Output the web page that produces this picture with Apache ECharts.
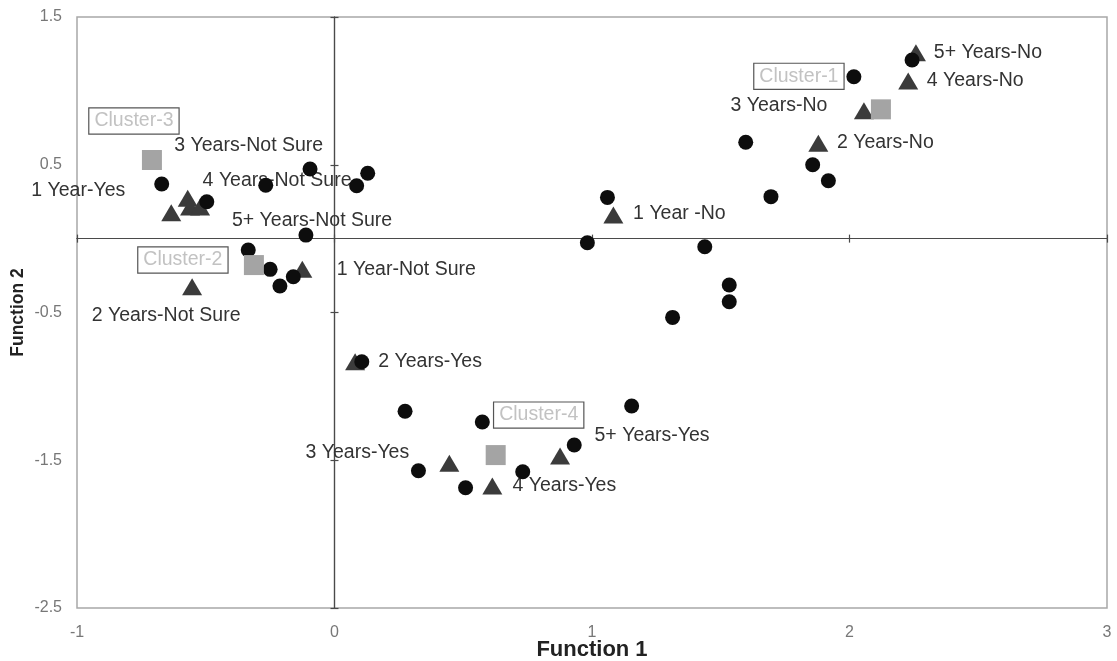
<!DOCTYPE html>
<html>
<head>
<meta charset="utf-8">
<script src="https://cdn.jsdelivr.net/npm/echarts@6/dist/echarts.min.js"></script>
<style>html,body{margin:0;padding:0;background:#fff;}#c{width:1117px;height:661px;}</style>
</head>
<body>
<div id="c"></div>
<script>
// Individual cases (circles)
const caseF1 = [-0.671,-0.496,-0.267,-0.095,0.086,0.129,-0.111,-0.335,-0.250,-0.212,-0.160,0.106,0.274,0.574,1.154,0.931,0.326,0.509,0.731,1.313,1.533,1.533,1.060,0.982,1.438,1.695,1.857,1.918,2.017,2.243,1.597];
const caseF2 = [0.370,0.250,0.361,0.471,0.358,0.442,0.024,-0.077,-0.208,-0.321,-0.258,-0.833,-1.168,-1.241,-1.133,-1.397,-1.571,-1.686,-1.578,-0.533,-0.314,-0.427,0.279,-0.028,-0.055,0.284,0.500,0.392,1.096,1.209,0.652];
// Group centroids (triangles)
const groupNames = ['1 Year-Yes','3 Years-Not Sure','4 Years-Not Sure','5+ Years-Not Sure','1 Year-Not Sure','2 Years-Not Sure','2 Years-Yes','3 Years-Yes','4 Years-Yes','5+ Years-Yes','1 Year -No','2 Years-No','3 Years-No','4 Years-No','5+ Years-No'];
const groupF1 = [-0.634,-0.570,-0.561,-0.522,-0.125,-0.553,0.080,0.446,0.613,0.876,1.083,1.879,2.056,2.228,2.258];
const groupF2 = [0.175,0.273,0.214,0.214,-0.208,-0.325,-0.833,-1.521,-1.674,-1.472,0.160,0.645,0.866,1.067,1.258];
// Cluster centroids (squares)
const clusterNames = ['Cluster-1','Cluster-2','Cluster-3','Cluster-4'];
const clusterF1 = [2.122,-0.313,-0.709,0.626];
const clusterF2 = [0.875,-0.179,0.532,-1.465];
// Axis ticks
const xTicks = [-1,0,1,2,3];
const yTicks = [-2.5,-1.5,-0.5,0.5,1.5];

// label placement (style, pixels)
const groupLabelOffsets = [[-93,-22],[61,-53],[87,-26],[112,14],[104,0],[-26,29],[75,0],[-92,-11],[72,0],[92,-20],[66,-1],[67,-1],[-85,-5],[67,0],[72,0]];
const clusterLabelOffsets = [[-82,-33],[-71,-5],[-18,-39],[43,-40]];

const FONT = 'Arial, "Liberation Sans", sans-serif';
const xMin = xTicks[0], xMax = xTicks[xTicks.length-1];
const yMin = yTicks[0], yMax = yTicks[yTicks.length-1];

function xAx(extra){
  return Object.assign({type:'value', min:xMin, max:xMax, interval:1, splitLine:{show:false}}, extra);
}
function yAx(extra){
  return Object.assign({type:'value', min:yMin, max:yMax, interval:1, splitLine:{show:false}}, extra);
}
const zeroLine = {color:'#4a4a4a', width:1.2};

const option = {
  animation:false,
  backgroundColor:'#fff',
  textStyle:{fontFamily:FONT},
  grid:{left:77, right:10, top:17, bottom:53, show:true, borderColor:'#a8a8a8', borderWidth:1.5,
    backgroundColor:'transparent', outerBoundsMode:'none', containLabel:false},
  xAxis:[
    xAx({position:'bottom', axisLine:{show:false, onZero:false}, axisTick:{show:false},
      axisLabel:{margin:17, fontSize:16, color:'#777', fontFamily:FONT},
      name:'Function 1', nameLocation:'middle', nameGap:31, nameMoveOverlap:false,
      nameTextStyle:{fontWeight:'bold', fontSize:22, color:'#222', fontFamily:FONT}}),
    xAx({position:'bottom', axisLine:{show:true, onZero:true, onZeroAxisIndex:0, lineStyle:zeroLine},
      axisTick:{show:true, length:4, lineStyle:zeroLine}, axisLabel:{show:false}}),
    xAx({position:'top', axisLine:{show:true, onZero:true, onZeroAxisIndex:0, lineStyle:zeroLine},
      axisTick:{show:true, length:4, lineStyle:zeroLine}, axisLabel:{show:false}})
  ],
  yAxis:[
    yAx({position:'left', axisLine:{show:false, onZero:false}, axisTick:{show:false},
      axisLabel:{margin:15, fontSize:16, color:'#777', fontFamily:FONT},
      name:'Function 2', nameLocation:'middle', nameGap:50, nameRotate:90, nameMoveOverlap:false,
      nameTextStyle:{fontWeight:'bold', fontSize:17.5, color:'#222', fontFamily:FONT}}),
    yAx({position:'left', axisLine:{show:true, onZero:true, onZeroAxisIndex:0, lineStyle:zeroLine},
      axisTick:{show:true, length:4, lineStyle:zeroLine}, axisLabel:{show:false}}),
    yAx({position:'right', axisLine:{show:true, onZero:true, onZeroAxisIndex:0, lineStyle:zeroLine},
      axisTick:{show:true, length:4, lineStyle:zeroLine}, axisLabel:{show:false}})
  ],
  series:[
    {
      type:'scatter', name:'Groups', xAxisIndex:0, yAxisIndex:0, z:3,
      symbol:'triangle', symbolSize:[20,17],
      itemStyle:{color:'#3b3b3b', opacity:1},
      emphasis:{disabled:true},
      data: groupNames.map((n,i)=>({
        name:n, value:[groupF1[i], groupF2[i]],
        label:{show:true, formatter:n, position:'inside', offset:groupLabelOffsets[i],
          color:'#333', fontSize:19.5, fontFamily:FONT, align:'center', verticalAlign:'middle'}
      }))
    },
    {
      type:'scatter', name:'Cases', xAxisIndex:0, yAxisIndex:0, z:5,
      symbol:'circle', symbolSize:15,
      itemStyle:{color:'#0d0d0d', opacity:1},
      emphasis:{disabled:true},
      data: caseF1.map((v,i)=>[v, caseF2[i]])
    },
    {
      type:'scatter', name:'Clusters', xAxisIndex:0, yAxisIndex:0, z:6,
      symbol:'rect', symbolSize:20,
      itemStyle:{color:'#a4a4a4', opacity:1},
      emphasis:{disabled:true},
      data: clusterNames.map((n,i)=>({
        name:n, value:[clusterF1[i], clusterF2[i]],
        label:{show:true, formatter:n, position:'inside', offset:clusterLabelOffsets[i],
          color:'#c2c2c2', fontSize:19.5, fontFamily:FONT, align:'center', verticalAlign:'middle',
          borderColor:'#555', borderWidth:1.2, padding:[3,5,2,5], backgroundColor:'#fff'}
      }))
    }
  ]
};
const chart = echarts.init(document.getElementById('c'), null, {renderer:'canvas'});
chart.setOption(option);
</script>
</body>
</html>
